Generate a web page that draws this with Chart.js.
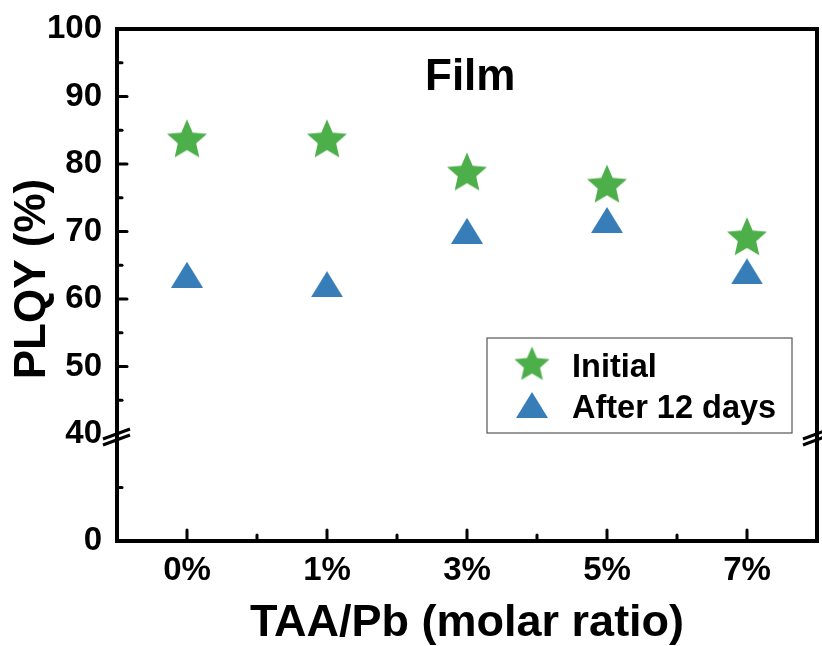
<!DOCTYPE html>
<html>
<head>
<meta charset="utf-8">
<script src="https://cdn.jsdelivr.net/npm/chart.js@4.4.0/dist/chart.umd.min.js"></script>
<style>
body{margin:0;background:#fff;overflow:hidden;}
#wrap{width:822px;height:646px;}
canvas{display:block;}
</style>
</head>
<body>
<div id="wrap"><canvas id="plqy_chart" width="822" height="646"></canvas></div>
<script>
// data
var categories = ['0%', '1%', '3%', '5%', '7%'];
var initialPLQY = [83.5, 83.5, 78.6, 76.8, 69.0];
var after12Days = [63.6, 62.2, 70.1, 71.7, 64.1];
var seriesNames = ['Initial', 'After 12 days'];

// broken y axis: 0-40 squeezed below the break, 40-100 above
var yLabels = [0, 40, 50, 60, 70, 80, 90, 100];
var majorTicks = [50, 60, 70, 80, 90, 100];
var minorTicks = [20, 45, 55, 65, 75, 85, 95];
var breakValue = 40;

var green = '#4DAF4A';
var blue = '#377EB8';
var fam = "'Liberation Sans', Arial, sans-serif";

// linear scale with a compressed segment below the break
class BrokenLinearScale extends Chart.LinearScale {
  _toDecimal(v) {
    var b = this.options.breakAt, f = this.options.lowerFraction;
    if (v >= b) return f + (v - b) / (this.max - b) * (1 - f);
    return (v - this.min) / (b - this.min) * f;
  }
  getPixelForValue(value) {
    return this.getPixelForDecimal(this._toDecimal(value));
  }
  getValueForPixel(pixel) {
    var d = this.getDecimalForPixel(pixel);
    var b = this.options.breakAt, f = this.options.lowerFraction;
    if (d >= f) return b + (d - f) / (1 - f) * (this.max - b);
    return this.min + d / f * (b - this.min);
  }
}
BrokenLinearScale.id = 'brokenLinear';
BrokenLinearScale.defaults = Chart.LinearScale.defaults;
Chart.register(BrokenLinearScale);

function makeStar(R, color) {
  var c = document.createElement('canvas');
  var s = Math.ceil(2 * R) + 2;
  c.width = s; c.height = s;
  var g = c.getContext('2d');
  g.fillStyle = color;
  g.beginPath();
  for (var k = 0; k < 10; k++) {
    var ang = -Math.PI / 2 + k * Math.PI / 5;
    var r = (k % 2 == 0) ? R : R * 0.46;
    var px = s / 2 + r * Math.cos(ang), py = s / 2 + r * Math.sin(ang);
    if (k == 0) g.moveTo(px, py); else g.lineTo(px, py);
  }
  g.closePath();
  g.fill();
  return c;
}

function makeTriangle(w, h, color) {
  var c = document.createElement('canvas');
  c.width = w; c.height = h;
  var g = c.getContext('2d');
  g.fillStyle = color;
  g.beginPath();
  g.moveTo(w / 2, 0);
  g.lineTo(w, h);
  g.lineTo(0, h);
  g.closePath();
  g.fill();
  return c;
}

var starImg = makeStar(21, green);
var legendStar = makeStar(18.5, green);
var triImg = makeTriangle(32, 26, blue);

var framePlugin = {
  id: 'frame',
  afterDraw: function(chart) {
    var ctx = chart.ctx, a = chart.chartArea;
    var xs = chart.scales.x, ys = chart.scales.y;
    ctx.save();
    ctx.strokeStyle = '#000';
    ctx.lineWidth = 4;
    ctx.strokeRect(a.left, a.top, a.right - a.left, a.bottom - a.top);

    // inward tick marks
    ctx.lineWidth = 3;
    ctx.lineCap = 'round';
    function hTick(y, len) { ctx.beginPath(); ctx.moveTo(a.left, y); ctx.lineTo(a.left + len, y); ctx.stroke(); }
    function vTick(x, len) { ctx.beginPath(); ctx.moveTo(x, a.bottom); ctx.lineTo(x, a.bottom - len); ctx.stroke(); }
    majorTicks.forEach(function(v) { hTick(ys.getPixelForValue(v), 10); });
    minorTicks.forEach(function(v) { hTick(ys.getPixelForValue(v), 5); });
    for (var i = 0; i < categories.length; i++) {
      vTick(xs.getPixelForValue(i), 11);
      if (i < categories.length - 1) vTick((xs.getPixelForValue(i) + xs.getPixelForValue(i + 1)) / 2, 6);
    }

    // axis break marks
    var yb = ys.getPixelForValue(breakValue) + 3;
    ctx.lineCap = 'butt';
    [a.left, a.right].forEach(function(xb) {
      [-3, 3].forEach(function(d) {
        ctx.beginPath();
        ctx.moveTo(xb - 14, yb + d + 5);
        ctx.lineTo(xb + 13, yb + d - 5);
        ctx.stroke();
      });
    });

    // y axis title
    ctx.fillStyle = '#000';
    ctx.font = 'bold 44px ' + fam;
    ctx.textAlign = 'center';
    ctx.textBaseline = 'middle';
    ctx.save();
    ctx.translate(33, (a.top + a.bottom) / 2 - 6);
    ctx.rotate(-Math.PI / 2);
    ctx.fillText('PLQY (%)', 0, 0);
    ctx.restore();

    // panel label
    ctx.textAlign = 'left';
    ctx.textBaseline = 'alphabetic';
    ctx.fillText('Film', a.left + 308, a.top + 61);

    // legend box
    var lx = a.right - 330, ly = a.top + 309;
    ctx.lineWidth = 1.2;
    ctx.strokeStyle = '#555';
    ctx.strokeRect(lx, ly, 305, 95);
    ctx.drawImage(legendStar, lx + 45 - legendStar.width / 2, ly + 27 - legendStar.height / 2);
    ctx.drawImage(triImg, lx + 45 - triImg.width / 2, ly + 67 - triImg.height / 2);
    ctx.font = 'bold 32.5px ' + fam;
    ctx.fillText(seriesNames[0], lx + 85, ly + 39);
    ctx.fillText(seriesNames[1], lx + 85, ly + 80);
    ctx.restore();
  }
};

var tickFont = { family: fam, size: 33, weight: 'bold' };

var ctx = document.getElementById('plqy_chart').getContext('2d');
var myChart = new Chart(ctx, {
  type: 'line',
  data: {
    labels: categories,
    datasets: [{
      label: seriesNames[0],
      data: initialPLQY,
      showLine: false,
      pointStyle: starImg,
      pointRadius: 20,
      pointHoverRadius: 20,
      borderColor: green,
      backgroundColor: green
    }, {
      label: seriesNames[1],
      data: after12Days,
      showLine: false,
      pointStyle: triImg,
      pointRadius: 16,
      pointHoverRadius: 16,
      borderColor: blue,
      backgroundColor: blue
    }]
  },
  options: {
    responsive: false,
    animation: false,
    events: [],
    layout: { autoPadding: false, padding: { top: 29, right: 5, left: 0, bottom: 0 } },
    plugins: { legend: { display: false }, tooltip: { enabled: false } },
    scales: {
      x: {
        type: 'category',
        offset: true,
        grid: { display: false, drawTicks: false },
        border: { display: false },
        ticks: { color: '#000', font: tickFont, padding: 10, maxRotation: 0, autoSkip: false },
        title: { display: true, text: 'TAA/Pb (molar ratio)', color: '#000', font: { family: fam, size: 45, weight: 'bold' }, padding: { top: 0, bottom: -5 } },
        afterFit: function(s) { s.height = 105; s.paddingLeft = 0; s.paddingRight = 0; }
      },
      y: {
        type: 'brokenLinear',
        position: 'left',
        min: 0,
        max: 100,
        breakAt: breakValue,
        lowerFraction: 107 / 512,
        grid: { display: false, drawTicks: false },
        border: { display: false },
        ticks: {
          stepSize: 10, autoSkip: false, padding: 15, color: '#000', font: tickFont,
          callback: function(v) { return yLabels.indexOf(v) >= 0 ? String(v) : ''; }
        },
        afterFit: function(s) { s.width = 117; s.paddingTop = 0; s.paddingBottom = 0; }
      }
    }
  },
  plugins: [framePlugin]
});
</script>
</body>
</html>
